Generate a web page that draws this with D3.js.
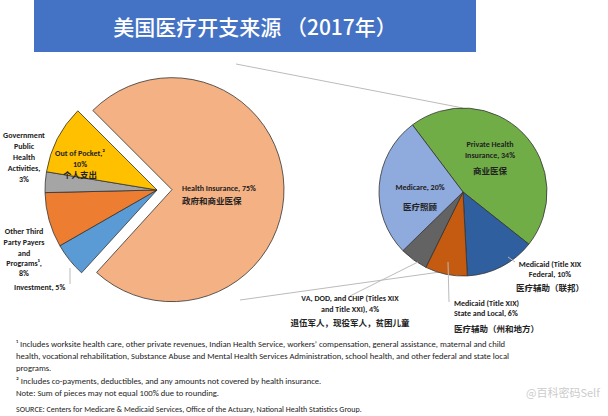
<!DOCTYPE html>
<html><head><meta charset="utf-8">
<script src="https://cdn.jsdelivr.net/npm/d3@7"></script>
<style>body{margin:0;background:#fff}svg{font-family:Calibri,"Liberation Sans","Noto Sans CJK SC",sans-serif}</style>
</head><body><svg id="c" width="608" height="416"></svg>
<script>
const leftCats=["Health Insurance","Investment","Other Third Party Payers","Government Public Health","Out of Pocket"];
const leftVals=[75,5,8,3,10];
const leftColors=["#f4b183","#5b9bd5","#ed7d31","#a5a5a5","#ffc000"];
const rightCats=["Private Health Insurance","Medicaid Federal","Medicaid State and Local","VA, DOD, and CHIP","Medicare"];
const rightVals=[34,10,6,4,20];
const rightColors=["#70ad47","#2f5f9e","#c55a11","#636363","#8faadc"];
const footnotes=["¹ Includes worksite health care, other private revenues, Indian Health Service, workers’ compensation, general assistance, maternal and child",
"health, vocational rehabilitation, Substance Abuse and Mental Health Services Administration, school health, and other federal and state local",
"programs.","² Includes co-payments, deductibles, and any amounts not covered by health insurance.","Note: Sum of pieces may not equal 100% due to rounding."];
const source="SOURCE: Centers for Medicare & Medicaid Services, Office of the Actuary, National Health Statistics Group.";

const svg=d3.select("#c");
const deg=Math.PI/180;
svg.append("rect").attr("x",34).attr("y",0).attr("width",442).attr("height",52).attr("fill","#4472c4");
svg.append("text").attr("x",255).attr("y",35).attr("text-anchor","middle").attr("fill","#fff")
 .attr("font-size",21).attr("font-family","'Noto Sans CJK SC',sans-serif").attr("font-weight",500).text("美国医疗开支来源 （2017年）");

// connectors
svg.append("line").attr("x1",236).attr("y1",64).attr("x2",463).attr("y2",108).attr("stroke","#bbb");
svg.append("line").attr("x1",240).attr("y1",300).attr("x2",440).attr("y2",272).attr("stroke","#bbb");

const lp=d3.pie().sort(null).startAngle(-45*deg).endAngle(315*deg)(leftVals);
const la=d3.arc().innerRadius(0).outerRadius(112);
svg.append("g").attr("transform","translate(157,190)").selectAll("path").data(lp).join("path")
 .attr("d",la).attr("fill",(d,i)=>leftColors[i]).attr("stroke","#333").attr("stroke-width",0.8)
 .attr("transform",(d,i)=>{if(i)return null;const m=(d.startAngle+d.endAngle)/2;return `translate(${15*Math.sin(m)},${-15*Math.cos(m)})`;});

const rp=d3.pie().sort(null).startAngle(-37*deg).endAngle(323*deg)(rightVals);
const ra=d3.arc().innerRadius(0).outerRadius(84);
svg.append("g").attr("transform","translate(463,192)").selectAll("path").data(rp).join("path")
 .attr("d",ra).attr("fill",(d,i)=>rightColors[i]).attr("stroke","#333").attr("stroke-width",0.8);

// leader lines
const ld=[[70,268,70,284],[418,262,350,296],[448,262,449,302],[508,257,515,262]];
ld.forEach(l=>svg.append("line").attr("x1",l[0]).attr("y1",l[1]).attr("x2",l[2]).attr("y2",l[3]).attr("stroke","#bbb"));

function lab(x,y,lines,anchor,cn){
  lines.forEach((t,i)=>{
    const isCn=/[\u4e00-\u9fff]/.test(t);
    svg.append("text").attr("x",x).attr("y",y[i]).attr("text-anchor",anchor||"middle")
     .attr("font-size",isCn?8.5:8).attr("font-weight","bold").attr("fill","#222")
     .attr("font-family",isCn?"'Noto Sans CJK SC',sans-serif":null).text(t);
  });
}
lab(24,[138,149,160,171,182],["Government","Public","Health","Activities,","3%"]);
lab(80,[156,167,178],["Out of Pocket,²","10%","个人支出"]);
lab(182,[191,204],["Health Insurance, 75%","政府和商业医保"],"start");
lab(24,[234,245,256,266,276],["Other Third","Party Payers","and","Programs¹,","8%"]);
lab(14,[290],["Investment, 5%"],"start");
lab(490,[147,158,174],["Private Health","Insurance, 34%","商业医保"]);
lab(420,[190,210],["Medicare, 20%","医疗照顾"]);
lab(550,[267,277,291],["Medicaid (Title XIX","Federal, 10%","医疗辅助（联邦）"]);
lab(454,[306,316,332],["Medicaid (Title XIX)","State and Local, 6%","医疗辅助（州和地方）"],"start");
lab(350,[301,312,326],["VA, DOD, and CHIP (Titles XIX","and Title XXI), 4%","退伍军人，现役军人，贫困儿童"]);

footnotes.forEach((t,i)=>svg.append("text").attr("x",16).attr("y",[347,359,371,384,396][i]).attr("font-size",8.6).attr("fill","#222").text(t));
svg.append("text").attr("x",16).attr("y",412).attr("font-size",8).attr("fill","#222").text(source);
svg.append("text").attr("x",526).attr("y",397).attr("font-size",11).attr("fill","#ccc").attr("font-family","'Noto Sans CJK SC',sans-serif").text("@百科密码Self");
</script></body></html>
